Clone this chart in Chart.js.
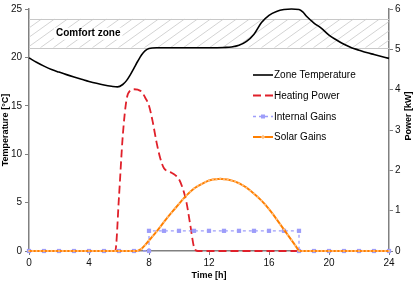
<!DOCTYPE html>
<html><head><meta charset="utf-8">
<script src="https://cdn.jsdelivr.net/npm/chart.js@4/dist/chart.umd.min.js"></script>
<style>html,body{margin:0;padding:0;background:#fff;}canvas{display:block;}</style>
</head><body>
<canvas id="c" width="416" height="284"></canvas>
<script>
// ---- data ----
const seriesNames = ["Zone Temperature", "Heating Power", "Internal Gains", "Solar Gains"];
const comfortZone = [21, 24];               // °C
const comfortLabel = "Comfort zone";
const xTicks = [0, 4, 8, 12, 16, 20, 24];
const tempTicks = [0, 5, 10, 15, 20, 25];
const powerTicks = [0, 1, 2, 3, 4, 5, 6];

const tempHours = [0,0.5,1,1.5,2,2.5,3,3.5,4,4.5,5,5.5,5.9,6.25,6.5,6.75,7,7.25,7.5,7.75,8,8.5,10,12,13,13.5,14,14.5,15,15.5,16,16.5,17,17.5,18,18.25,18.5,19,19.5,20,20.5,21,21.5,22,22.5,23,23.5,24];
const tempValues = [19.95,19.5,19.1,18.75,18.48,18.22,17.98,17.75,17.52,17.32,17.15,17.02,16.95,17.2,17.6,18.2,18.9,19.6,20.25,20.7,20.92,21.0,21.0,21.0,21.03,21.08,21.25,21.65,22.4,23.6,24.35,24.75,24.95,25.0,24.95,24.7,24.25,23.55,23.0,22.3,21.8,21.35,21.0,20.75,20.5,20.3,20.1,19.9];

const heatHours = [0,5.75,6.0,6.25,6.5,6.75,7.0,7.25,7.5,7.75,8.0,8.25,8.5,8.75,9.0,9.25,9.5,9.75,10.0,10.25,10.5,10.75,11.0,11.25,24];
const heatValues = [0,0,1.35,2.85,3.75,3.98,4.01,4.0,3.95,3.8,3.6,3.2,2.7,2.3,2.05,1.98,1.94,1.88,1.78,1.55,1.2,0.65,0.1,0,0];

const internalHours = [0,1,2,3,4,5,6,7,8,8,9,10,11,12,13,14,15,16,17,18,18,19,20,21,22,23,24];
const internalValues = [0,0,0,0,0,0,0,0,0,0.5,0.5,0.5,0.5,0.5,0.5,0.5,0.5,0.5,0.5,0.5,0,0,0,0,0,0,0];

const solarHours = [0,0.25,0.5,0.75,1,1.25,1.5,1.75,2,2.25,2.5,2.75,3,3.25,3.5,3.75,4,4.25,4.5,4.75,5,5.25,5.5,5.75,6,6.25,6.5,6.75,7,7.25,7.5,7.75,8,8.25,8.5,8.75,9,9.25,9.5,9.75,10,10.25,10.5,10.75,11,11.25,11.5,11.75,12,12.25,12.5,12.75,13,13.25,13.5,13.75,14,14.25,14.5,14.75,15,15.25,15.5,15.75,16,16.25,16.5,16.75,17,17.25,17.5,17.75,18,18.25,18.5,18.75,19,19.25,19.5,19.75,20,20.25,20.5,20.75,21,21.25,21.5,21.75,22,22.25,22.5,22.75,23,23.25,23.5,23.75,24];
const solarValues = [0,0,0,0,0,0,0,0,0,0,0,0,0,0,0,0,0,0,0,0,0,0,0,0,0,0,0,0,0,0,
  0.05,0.15,0.26,0.37,0.48,0.6,0.72,0.84,0.95,1.06,1.17,1.28,1.38,1.47,1.55,1.61,1.66,1.71,1.75,1.77,1.78,1.79,1.78,1.77,1.75,1.72,1.68,1.63,1.57,1.5,1.42,1.34,1.25,1.15,1.04,0.92,0.79,0.66,0.53,0.4,0.27,0.14,0.0,
  0,0,0,0,0,0,0,0,0,0,0,0,0,0,0,0,0,0,0,0,0,0,0,0];

// ---- styles ----
const FONT = "'Liberation Sans', Arial, sans-serif";
const pts = (xs, ys) => xs.map((x, i) => ({x: x, y: ys[i]}));
const AXIS = '#808080';

const hatchPlugin = {
  id: 'hatch',
  beforeDatasetsDraw(chart) {
    const {ctx, chartArea: a, scales} = chart;
    const yTop = scales.y.getPixelForValue(comfortZone[1]);
    const yBot = scales.y.getPixelForValue(comfortZone[0]);
    ctx.save();
    ctx.beginPath();
    ctx.rect(a.left, yTop, a.right - a.left, yBot - yTop);
    ctx.clip();
    ctx.strokeStyle = '#c8c8c8';
    ctx.lineWidth = 0.8;
    const h = yBot - yTop;
    const run = h * 1.4;
    for (let x = a.left - run; x < a.right + 10; x += 13) {
      ctx.beginPath();
      ctx.moveTo(x, yBot);
      ctx.lineTo(x + run, yTop);
      ctx.stroke();
    }
    ctx.restore();
    ctx.save();
    ctx.strokeStyle = '#c8c8c8';
    ctx.lineWidth = 1;
    ctx.beginPath();
    ctx.moveTo(a.left, Math.round(yTop) + 0.5); ctx.lineTo(a.right, Math.round(yTop) + 0.5);
    ctx.moveTo(a.left, Math.round(yBot) + 0.5); ctx.lineTo(a.right, Math.round(yBot) + 0.5);
    ctx.stroke();
    ctx.font = "bold 10px " + FONT;
    ctx.textBaseline = 'middle';
    ctx.textAlign = 'left';
    const tx = a.left + 27;
    const ty = (yTop + yBot) / 2 + 0.5;
    const w = ctx.measureText(comfortLabel).width;
    ctx.fillStyle = '#fff';
    ctx.fillRect(tx - 2, ty - 6, w + 4, 12);
    ctx.fillStyle = '#000';
    ctx.fillText(comfortLabel, tx, ty);
    ctx.restore();
  }
};

const textPlugin = {
  id: 'texts',
  afterDraw(chart) {
    const {ctx, chartArea: a} = chart;
    ctx.save();
    ctx.fillStyle = '#000';
    ctx.font = "bold 9px " + FONT;
    ctx.textAlign = 'center';
    ctx.textBaseline = 'middle';
    ctx.fillText('Time [h]', (a.left + a.right) / 2, 276);
    ctx.save();
    ctx.translate(6, (a.top + a.bottom) / 2);
    ctx.rotate(-Math.PI / 2);
    ctx.fillText('Temperature [°C]', 0, 0);
    ctx.restore();
    ctx.save();
    ctx.translate(408.5, 116);
    ctx.rotate(-Math.PI / 2);
    ctx.fillText('Power [kW]', 0, 0);
    ctx.restore();

    // legend
    const ds = chart.data.datasets;
    const rows = [75, 95.5, 116.5, 137];
    const x0 = 253, x1 = 273;
    ctx.font = "10px " + FONT;
    ctx.textAlign = 'left';
    for (let i = 0; i < 4; i++) {
      const d = ds[i];
      const y = rows[i];
      ctx.save();
      ctx.strokeStyle = d.borderColor;
      ctx.lineWidth = d.borderWidth;
      ctx.setLineDash(d.borderDash || []);
      ctx.beginPath();
      ctx.moveTo(x0, y); ctx.lineTo(x1, y);
      ctx.stroke();
      ctx.setLineDash([]);
      if (d.legendMarker === 'square') {
        ctx.fillStyle = d.pointBackgroundColor;
        ctx.fillRect((x0 + x1) / 2 - 2, y - 2, 4, 4);
      } else if (d.legendMarker === 'diamond') {
        ctx.fillStyle = d.pointBackgroundColor;
        ctx.beginPath();
        const cx = (x0 + x1) / 2;
        ctx.moveTo(cx, y - 2.2); ctx.lineTo(cx + 2.2, y); ctx.lineTo(cx, y + 2.2); ctx.lineTo(cx - 2.2, y);
        ctx.closePath(); ctx.fill();
      }
      ctx.restore();
      ctx.fillStyle = '#000';
      ctx.textBaseline = 'middle';
      ctx.fillText(d.label, x1 + 1, y + 0.5);
    }
    ctx.restore();
  }
};

new Chart(document.getElementById('c'), {
  type: 'line',
  data: {
    datasets: [
      { label: seriesNames[0], data: pts(tempHours, tempValues), yAxisID: 'y',
        borderColor: '#000000', borderWidth: 1.6, pointRadius: 0, tension: 0.4,
        cubicInterpolationMode: 'monotone', order: 3 },
      { label: seriesNames[1], data: pts(heatHours, heatValues), yAxisID: 'y1',
        borderColor: '#e0202a', borderWidth: 1.8, borderDash: [8, 4], pointRadius: 0,
        cubicInterpolationMode: 'monotone', order: 2 },
      { label: seriesNames[2], data: pts(internalHours, internalValues), yAxisID: 'y1',
        borderColor: '#9d9dfa', borderWidth: 1.3, borderDash: [3, 3],
        pointStyle: 'rect', pointRadius: 3, pointBackgroundColor: '#9d9dfa', pointBorderWidth: 0,
        legendMarker: 'square', order: 1 },
      { label: seriesNames[3], data: pts(solarHours, solarValues), yAxisID: 'y1',
        borderColor: '#ff7f00', borderWidth: 2, pointStyle: 'rectRot', pointRadius: 1.3,
        pointBackgroundColor: '#ffc080', pointBorderWidth: 0, tension: 0,
        legendMarker: 'diamond', order: 0 }
    ]
  },
  options: {
    responsive: false,
    animation: false,
    devicePixelRatio: 1,
    layout: { padding: { top: 6, left: 0, right: 0, bottom: 0 } },
    plugins: { legend: { display: false }, tooltip: { enabled: false } },
    elements: { line: { fill: false } },
    clip: false,
    scales: {
      x: {
        type: 'linear', min: 0, max: 24,
        afterBuildTicks(s) { s.ticks = xTicks.map(v => ({value: v})); },
        ticks: { font: { family: FONT, size: 10 }, color: '#111', padding: 2, maxRotation: 0 },
        grid: { drawOnChartArea: false, drawTicks: true, tickLength: 4, color: AXIS, lineWidth: 1 },
        border: { color: AXIS, width: 1.5 },
        afterFit(s) { s.height = 33; }
      },
      y: {
        position: 'left', min: 0, max: 25,
        afterBuildTicks(s) { s.ticks = tempTicks.map(v => ({value: v})); },
        ticks: { font: { family: FONT, size: 10 }, color: '#111', padding: 3 },
        grid: { drawOnChartArea: false, drawTicks: true, tickLength: 4, color: AXIS, lineWidth: 1 },
        border: { color: AXIS, width: 1.5 },
        afterFit(s) { s.width = 29; }
      },
      y1: {
        position: 'right', min: 0, max: 6,
        afterBuildTicks(s) { s.ticks = powerTicks.map(v => ({value: v})); },
        ticks: { font: { family: FONT, size: 10 }, color: '#111', padding: 2 },
        grid: { drawOnChartArea: false, drawTicks: true, tickLength: 4, color: AXIS, lineWidth: 1 },
        border: { color: AXIS, width: 1.5 },
        afterFit(s) { s.width = 27; }
      }
    }
  },
  plugins: [hatchPlugin, textPlugin]
});
</script>
</body></html>
